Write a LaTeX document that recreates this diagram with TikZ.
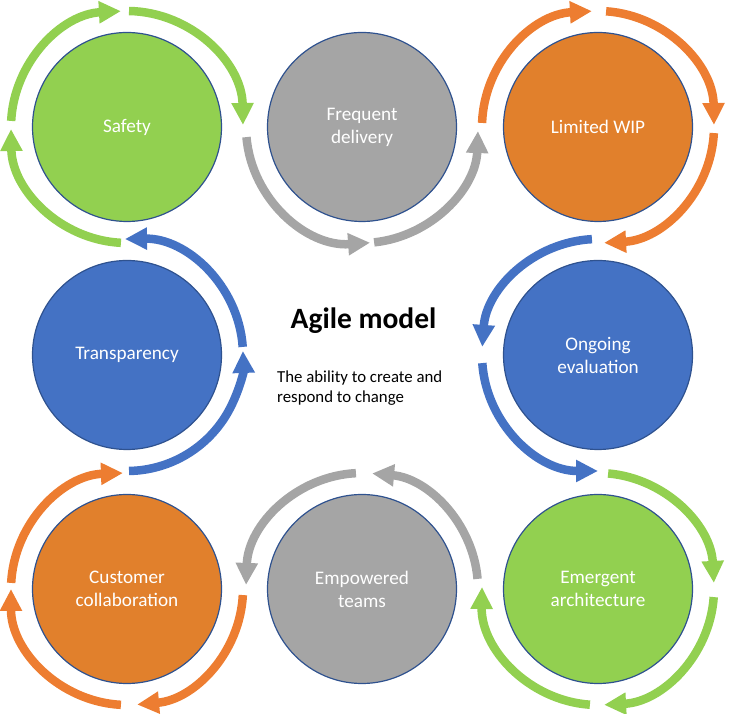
\documentclass[tikz,border=0pt]{standalone}
\usepackage{fontspec}
\setmainfont{Carlito}
\usepackage{xcolor}
\usetikzlibrary{arrows.meta}
\def\flowR{116}
\definecolor{agreen}{HTML}{92D050}
\definecolor{agray}{HTML}{A5A5A5}
\definecolor{aorange}{HTML}{ED7D31}
\definecolor{aorangefill}{HTML}{E1802C}
\definecolor{ablue}{HTML}{4472C4}
\definecolor{aoutline}{HTML}{2F528F}

\begin{document}
\begin{tikzpicture} [x=1pt, y=1pt,
  stage/.style={circle, minimum size=189pt, inner sep=0pt, draw=aoutline,
    line width=1.2pt, text=white, align=center,
    font=\fontsize{19.2}{23}\selectfont},
  flow/.style={line width=8.5pt, -{Triangle[length=22pt,width=21pt]}}
]
  \useasboundingbox (0,0) rectangle (741,714);
  \node[stage, fill=agreen]      (safety)       at (127,587) {Safety};
  \node[stage, fill=agray]       (delivery)     at (362,587) {Frequent\\delivery};
  \node[stage, fill=aorangefill] (wip)          at (598,587) {Limited WIP};
  \node[stage, fill=ablue]       (transparency) at (127,359) {Transparency};
  \node[stage, fill=ablue]       (evaluation)   at (598,359) {Ongoing\\evaluation};
  \node[stage, fill=aorangefill] (customer)     at (127,125) {Customer\\collaboration};
  \node[stage, fill=agray]       (teams)        at (362,125) {Empowered\\teams};
  \node[stage, fill=agreen]      (architecture) at (598,125) {Emergent\\architecture};
  % arrows running round the stages
  \foreach \c/\col/\a/\b in {
    safety/agreen/177/93, safety/agreen/89/1, safety/agreen/267/181,
    delivery/agray/185/274, delivery/agray/276/358,
    wip/aorange/178/93, wip/aorange/86/1, wip/aorange/-3/-87,
    evaluation/ablue/93/176, evaluation/ablue/184/270,
    architecture/agreen/85/3, architecture/agreen/-4/-87, architecture/agreen/266/179,
    teams/agray/5/85, teams/agray/93/178,
    customer/aorange/-3/-85, customer/aorange/267/180, customer/aorange/177/92,
    transparency/ablue/-89/2, transparency/ablue/4/91}
    \draw[flow, \col] ([shift={(\a:\flowR)}]\c.center)
      arc[start angle=\a, end angle=\b, radius=\flowR];
  \node[font=\bfseries\fontsize{29.5}{35}\selectfont, anchor=base] (title)
    at (363.5,385) {Agile model};
  \node[font=\fontsize{16.8}{19.5}\selectfont, align=left, anchor=base west,
    inner sep=0pt] (caption)
    at (277,311.5) {The ability to create and\\respond to change};
\end{tikzpicture}
\end{document}
